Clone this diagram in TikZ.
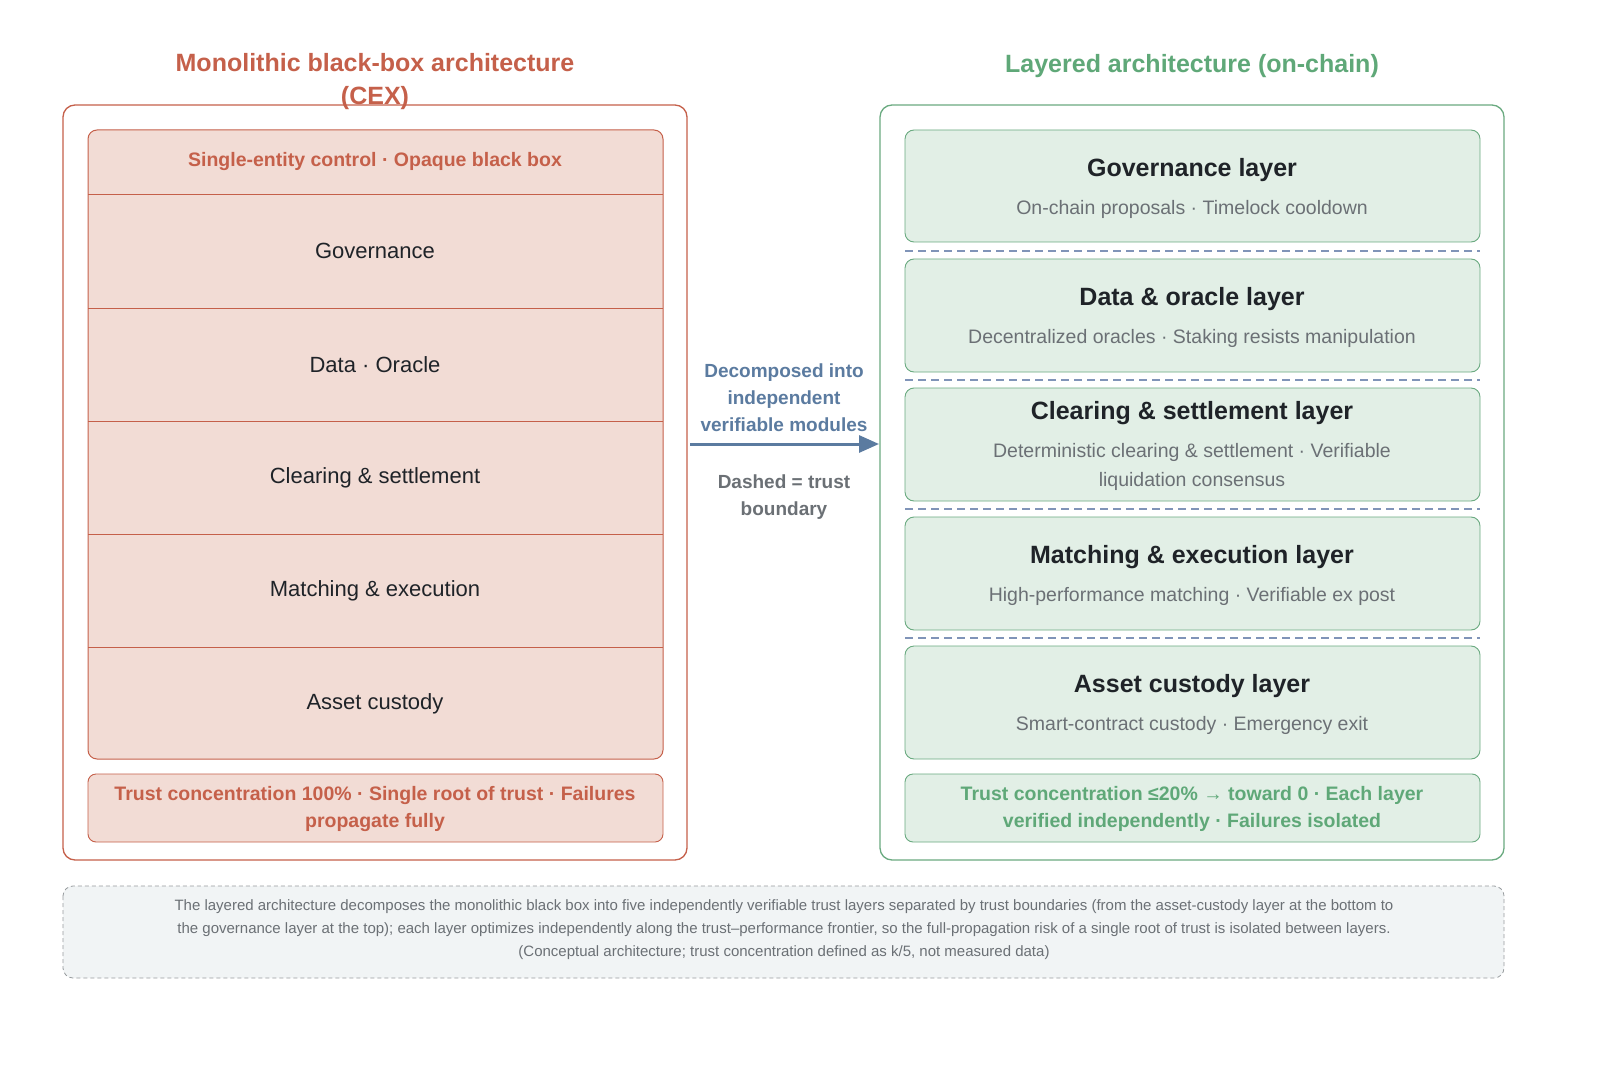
\documentclass[tikz,border=0pt]{standalone}
\usepackage{fontspec}
\setmainfont{Liberation Sans}
\usetikzlibrary{arrows.meta}
\definecolor{red1}{HTML}{C5604A}
\definecolor{redfill}{HTML}{F2DCD5}
\definecolor{grn}{HTML}{6AAA80}
\definecolor{grnfill}{HTML}{E2EFE6}
\definecolor{grntxt}{HTML}{5FA878}
\definecolor{blu}{HTML}{5B7BA0}
\definecolor{dash}{HTML}{8094B8}
\definecolor{gry}{HTML}{6B7075}
\definecolor{dark}{HTML}{1F2328}
\definecolor{notefill}{HTML}{F1F4F5}
\begin{document}
\begin{tikzpicture}[x=1pt,y=-1pt,
  outerR/.style={draw=red1,line width=1.3pt,rounded corners=12pt},
  outerG/.style={draw=grn,line width=1.3pt,rounded corners=12pt},
  layer/.style={draw=grn,fill=grnfill,line width=0.9pt,rounded corners=9pt},
  ttl/.style={font=\fontsize{25}{33}\selectfont\bfseries,align=center},
  cell/.style={font=\fontsize{22}{26}\selectfont,text=dark},
  lt/.style={font=\fontsize{25}{30}\selectfont\bfseries,text=dark},
  ls/.style={font=\fontsize{19.5}{29}\selectfont,text=gry,align=center},
  bt/.style={font=\fontsize{19.5}{27}\selectfont\bfseries,align=center},
  bound/.style={draw=dash,line width=1.3pt,dash pattern=on 8pt off 5pt}]
\useasboundingbox (0,0) rectangle (1600,1067);
\fill[white] (0,0) rectangle (1600,1067);
% left
\draw[outerR] (63,105) rectangle (687,860);
\node[ttl,text=red1] (lt) at (375,82) {Monolithic black-box architecture\\(CEX)};
\draw[red1,fill=redfill,line width=1pt,rounded corners=9pt] (88,130) rectangle (663,759);
\foreach \y in {194,308,421,534,647} \draw[red1,line width=0.9pt] (88,\y) -- (663,\y);
\node[bt,text=red1] (lh) at (375,162) {Single-entity control · Opaque black box};
\node[cell] (l1) at (375,251) {Governance};
\node[cell] (l2) at (375,365) {Data · Oracle};
\node[cell] (l3) at (375,478) {Clearing \& settlement};
\node[cell] (l4) at (375,591) {Matching \& execution};
\node[cell] (l5) at (375,704) {Asset custody};
\draw[red1,fill=redfill,line width=0.9pt,rounded corners=8pt] (88,774) rectangle (663,842);
\node[bt,text=red1] (lb) at (375,809) {Trust concentration 100\% · Single root of trust · Failures\\propagate fully};
% right
\draw[outerG] (880,105) rectangle (1504,860);
\node[ttl,text=grntxt] (rt) at (1192,66) {Layered architecture (on-chain)};
\foreach \a/\b in {130/242,259/372,388/501,517/630,646/759} \draw[layer] (905,\a) rectangle (1480,\b);
\foreach \y in {251,380,509,638} \draw[bound] (905,\y) -- (1480,\y);
\node[lt] (g1) at (1192,170) {Governance layer};
\node[ls] (g2) at (1192,209) {On-chain proposals · Timelock cooldown};
\node[lt] (d1) at (1192,299) {Data \& oracle layer};
\node[ls] (d2) at (1192,338) {Decentralized oracles · Staking resists manipulation};
\node[lt] (c1) at (1192,413) {Clearing \& settlement layer};
\node[ls] (c2) at (1192,467) {Deterministic clearing \& settlement · Verifiable\\liquidation consensus};
\node[lt] (m1) at (1192,557) {Matching \& execution layer};
\node[ls] (m2) at (1192,596) {High-performance matching · Verifiable ex post};
\node[lt] (a1) at (1192,686) {Asset custody layer};
\node[ls] (a2) at (1192,725) {Smart-contract custody · Emergency exit};
\draw[grn,fill=grnfill,line width=0.9pt,rounded corners=8pt] (905,774) rectangle (1480,842);
\node[bt,text=grntxt] (rb) at (1192,809) {Trust concentration ≤20\% → toward 0 · Each layer\\verified independently · Failures isolated};
% middle
\coordinate (as) at (690,444);
\coordinate (ae) at (879,444);
\draw[blu,line width=3pt,-{Triangle[length=20pt,width=17pt]}] (as) -- (ae);
\node[bt,text=blu,font=\fontsize{19}{27}\selectfont\bfseries] (mt) at (784,398) {Decomposed into\\independent\\verifiable modules};
\node[bt,text=gry,font=\fontsize{19}{27}\selectfont\bfseries] (mb) at (784,497) {Dashed = trust\\boundary};
% note
\draw[gry!70,fill=notefill,line width=0.8pt,dash pattern=on 4pt off 3pt,rounded corners=10pt] (63,886) rectangle (1504,978);
\node[font=\fontsize{15}{23}\selectfont,text=gry,align=center] (nt) at (784,930) {The layered architecture decomposes the monolithic black box into five independently verifiable trust layers separated by trust boundaries (from the asset-custody layer at the bottom to\\the governance layer at the top); each layer optimizes independently along the trust–performance frontier, so the full-propagation risk of a single root of trust is isolated between layers.\\(Conceptual architecture; trust concentration defined as k/5, not measured data)};
\end{tikzpicture}
\end{document}
